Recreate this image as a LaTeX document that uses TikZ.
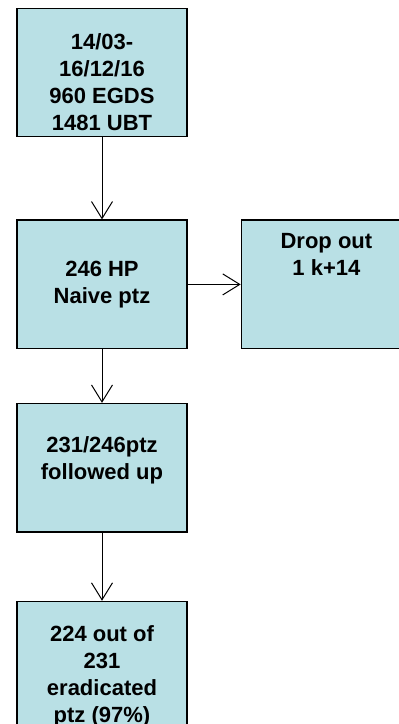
\documentclass[tikz,border=0pt]{standalone}
\usepackage{fontspec}
\setmainfont{Liberation Sans}
\usetikzlibrary{positioning,arrows.meta}

\definecolor{boxblue}{RGB}{185,224,229}

\tikzset{
  stage/.style={draw, line width=1.4pt, fill=boxblue, minimum width=170pt, minimum height=128.5pt, inner sep=0pt},
  stagetext/.style={align=center, font=\bfseries\fontsize{22}{27}\selectfont, inner sep=0pt},
  flow/.style={line width=1pt, -{Straight Barb[length=17pt,width=21pt,line width=1pt]}}
}

\begin{document}
\begin{tikzpicture}[x=1pt, y=-1pt]
\useasboundingbox (0,0) rectangle (399,724);

\node (dates) [stage] at (102,72.5) {};
\node (naive) [stage, below=82pt of dates] {};
\node (dropout) [stage, right=53pt of naive] {};
\node (followed) [stage, below=53.5pt of naive] {};
\node (eradicated) [stage, below=68pt of followed] {};

\node (datesText) [stagetext, yshift=-10pt] at (dates.center)
{14/03-\\16/12/16\\960 EGDS\\1481 UBT};
\node (naiveText) [stagetext] at (naive.center) {246 HP\\Naive ptz};
\node (dropoutText) [stagetext, below=14pt of dropout.north] {Drop out\\1 k+14};
\node (followedText) [stagetext, yshift=7pt] at (followed.center) {231/246ptz\\followed up};
\node (eradicatedText) [stagetext, below=25pt of eradicated.north]
{224 out of\\231\\eradicated\\ptz (97\%)};

\draw[flow] (dates) -- (naive);
\draw[flow] (naive) -- (dropout);
\draw[flow] (naive) -- (followed);
\draw[flow] (followed) -- (eradicated);

\end{tikzpicture}
\end{document}
